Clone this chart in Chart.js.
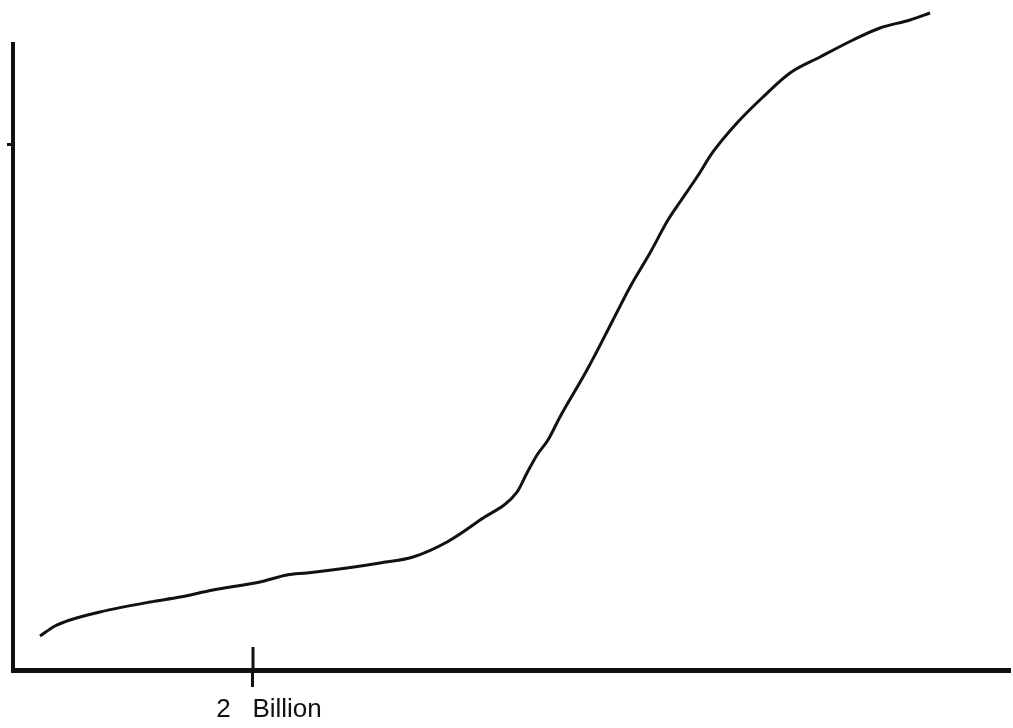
<!DOCTYPE html>
<html><head><meta charset="utf-8">
<script src="https://cdn.jsdelivr.net/npm/chart.js@4"></script>
<style>html,body{margin:0;padding:0;background:#fff;overflow:hidden}</style>
</head><body>
<canvas id="c" width="1013" height="728"></canvas>
<script>
// x: population (billions), y: arbitrary index
const populationBillions = [0.225,0.35,0.475,0.725,1.142,1.392,1.667,2.058,2.283,2.45,2.783,3.058,3.333,3.617,3.892,4.2,4.283,4.367,4.458,4.558,4.783,5.0,5.142,5.308,5.458,5.558,5.7,5.833,6.033,6.25,6.475,6.725,7.0,7.225,7.475,7.642];
const curveValues = [5.43,7.03,7.99,9.27,10.86,11.66,12.78,14.06,15.18,15.5,16.29,17.09,18.05,20.45,23.96,28.43,31.47,34.35,36.74,40.42,47.92,55.91,61.18,66.61,71.88,74.76,78.75,82.75,87.38,91.53,95.37,97.92,100.64,102.56,103.83,104.95];
const xTickValues = [2];
const xTickLabels = ['2   Billion'];
const yTickValues = [84];

const innerTick = {
  id: 'innerTick',
  afterDraw(chart) {
    const s = chart.scales.x, ctx = chart.ctx, b = chart.chartArea.bottom;
    ctx.save();
    ctx.strokeStyle = '#111';
    ctx.lineWidth = 3;
    xTickValues.forEach(v => {
      const px = s.getPixelForValue(v);
      ctx.beginPath();
      ctx.moveTo(px, b - 23);
      ctx.lineTo(px, b);
      ctx.stroke();
    });
    ctx.restore();
  }
};

new Chart(document.getElementById('c'), {
  type: 'line',
  data: {
    datasets: [{
      data: populationBillions.map((x, i) => ({x, y: curveValues[i]})),
      borderColor: '#111',
      borderWidth: 3,
      pointRadius: 0,
      cubicInterpolationMode: 'monotone',
      fill: false,
      clip: false
    }]
  },
  options: {
    responsive: false,
    animation: false,
    layout: {padding: {top: 44, right: 4, left: 0, bottom: 0}},
    plugins: {legend: {display: false}, tooltip: {enabled: false}},
    scales: {
      x: {
        type: 'linear', min: 0, max: 8.3,
        afterFit(s) { s.height = 58; },
        afterBuildTicks(s) { s.ticks = xTickValues.map(v => ({value: v})); },
        ticks: {
          callback: (v, i) => xTickLabels[i],
          font: {family: 'Liberation Sans', size: 26},
          color: '#111',
          maxRotation: 0, autoSkip: false,
          padding: 7,
          labelOffset: 16
        },
        grid: {drawOnChartArea: false, drawTicks: true, tickLength: 17, lineWidth: 3, color: '#111'},
        border: {display: true, color: '#111', width: 5}
      },
      y: {
        min: 0, max: 100,
        afterFit(s) { s.width = 13; },
        afterBuildTicks(s) { s.ticks = yTickValues.map(v => ({value: v})); },
        ticks: {display: false},
        grid: {drawOnChartArea: false, drawTicks: true, tickLength: 6, lineWidth: 3, color: '#111'},
        border: {display: true, color: '#111', width: 4}
      }
    }
  },
  plugins: [innerTick]
});
</script>
</body></html>
